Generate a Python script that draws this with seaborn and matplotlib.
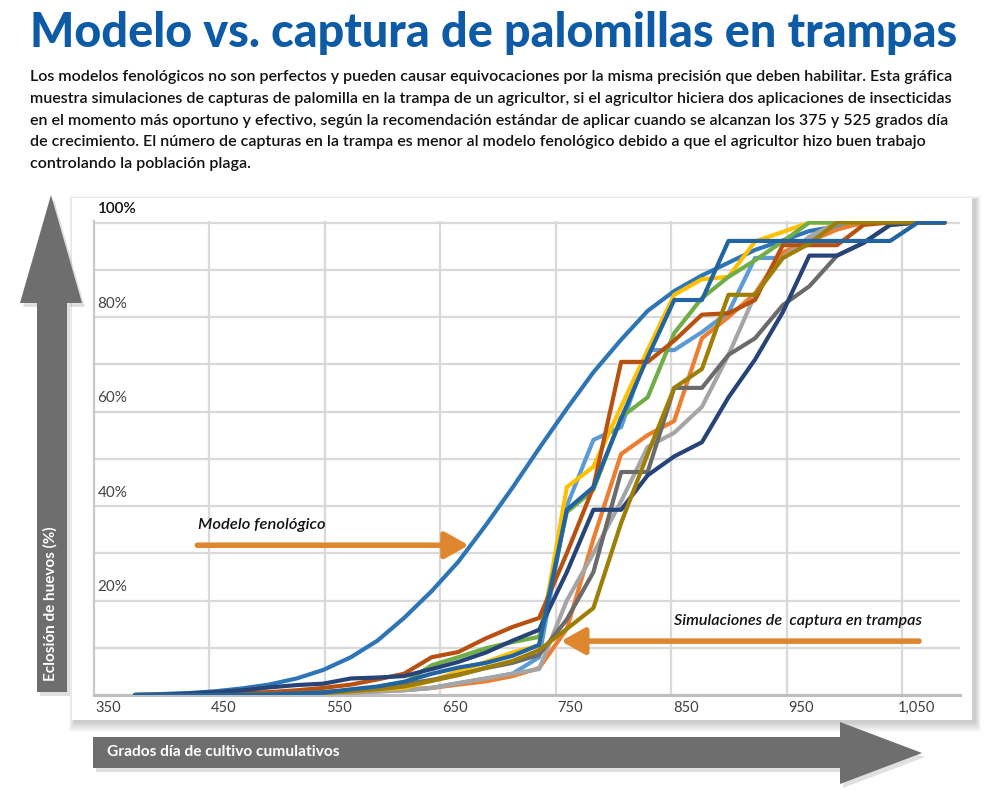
import numpy as np
import pandas as pd
import matplotlib.pyplot as plt
import seaborn as sns
from matplotlib.patches import Polygon, Rectangle
from matplotlib.transforms import blended_transform_factory

# grados dia acumulados (puntos de muestreo)
gdd = [373, 396, 419, 443, 466, 489, 513, 536, 560, 583, 606, 630, 653, 677, 700,
       723, 747, 770, 794, 817, 840, 864, 887, 910, 934, 957, 981, 1004, 1027, 1051, 1074]

modelo = [0, 0.2, 0.4, 0.8, 1.4, 2.2, 3.5, 5.3, 8.0, 11.5, 16.3, 22.0, 28.2, 36.0, 43.9,
          52.2, 60.6, 68.3, 75.2, 81.3, 85.5, 88.8, 91.5, 94.2, 96.2, 98.2, 99.2, 99.8, 100, 100, 100]

sim_celeste = [0, 0, 0, 0, 0, 0.1, 0.2, 0.4, 0.6, 0.8, 1.0, 1.5, 2.5, 3.5, 4.5,
               8.0, 40, 54, 56.7, 73, 73, 76.8, 81, 92.5, 92.5, 96, 99.5, 100, 100, 100, 100]
sim_naranja = [0, 0, 0, 0, 0, 0.1, 0.2, 0.3, 0.5, 0.8, 1.1, 1.5, 2.2, 2.9, 4.0,
               5.7, 14, 33, 51, 55, 58, 75.5, 80, 85, 93.7, 96, 98.5, 100, 100, 100, 100]
sim_gris = [0, 0, 0, 0, 0, 0.1, 0.2, 0.3, 0.5, 0.7, 1.0, 1.5, 2.5, 3.5, 4.5,
            5.5, 20, 30, 41, 52.5, 55.5, 61, 72, 84.7, 92.5, 97, 100, 100, 100, 100, 100]
sim_amarillo = [0, 0, 0, 0, 0.1, 0.2, 0.3, 0.5, 0.8, 1.2, 1.5, 3.0, 5.0, 7.0, 9.0,
                10.5, 44, 48.3, 61, 73, 84.7, 88, 88.5, 96, 98, 100, 100, 100, 100, 100, 100]
sim_verde = [0, 0, 0, 0, 0.1, 0.2, 0.3, 0.6, 1.0, 1.5, 2.5, 6.3, 8.0, 9.9, 11.2,
             12.3, 38.7, 43.4, 58.8, 63, 76.6, 84, 88.5, 92, 96, 100, 100, 100, 100, 100, 100]
sim_ladrillo = [0, 0, 0, 0.2, 0.4, 0.6, 1.0, 1.5, 2.2, 3.3, 4.5, 8.0, 9.1, 12.0, 14.4,
                16.3, 30, 44, 70.5, 70.5, 75, 80.5, 80.8, 83.6, 95.2, 95.2, 95.2, 99.5, 100, 100, 100]
sim_gris_osc = [0, 0, 0, 0, 0.1, 0.2, 0.4, 0.6, 1.0, 1.5, 2.3, 3.2, 4.3, 5.7, 6.8,
                8.5, 16, 26, 47.2, 47.2, 65, 65, 72, 75.5, 82.5, 86.5, 93, 95.7, 99.5, 100, 100]
sim_marino = [0, 0.1, 0.3, 0.6, 1.0, 1.6, 2.1, 2.4, 3.5, 3.7, 4.0, 5.5, 7.0, 9.0, 11.5,
              13.8, 26, 39.2, 39.2, 46.5, 50.5, 53.5, 63, 71, 81, 93, 93, 95.7, 99.5, 100, 100]
sim_ocre = [0, 0, 0, 0, 0, 0.1, 0.2, 0.4, 0.8, 1.2, 1.8, 3.0, 4.2, 5.8, 7.2,
            9.5, 14, 18.4, 36.4, 51, 65, 69, 84.7, 84.7, 92.5, 95.5, 100, 100, 100, 100, 100]
sim_azul = [0, 0, 0, 0, 0, 0.1, 0.3, 0.5, 1.2, 1.8, 2.8, 4.5, 5.8, 6.8, 8.3,
            10.6, 39.2, 44, 58.5, 71.5, 83.6, 83.6, 96.1, 96.1, 96.1, 96.1, 96.1, 96.1, 96.1, 100, 100]

series = {
    "modelo": (modelo, "#2E75B6"),
    "celeste": (sim_celeste, "#5B9BD5"),
    "naranja": (sim_naranja, "#ED7D31"),
    "gris": (sim_gris, "#A5A5A5"),
    "amarillo": (sim_amarillo, "#FFC000"),
    "verde": (sim_verde, "#70AD47"),
    "ladrillo": (sim_ladrillo, "#B8500F"),
    "gris_osc": (sim_gris_osc, "#6B6B6B"),
    "marino": (sim_marino, "#264478"),
    "ocre": (sim_ocre, "#9E7E06"),
    "azul": (sim_azul, "#22649F"),
}

x_ticks = [350, 450, 550, 650, 750, 850, 950, 1050]
x_labels = ["350", "450", "550", "650", "750", "850", "950", "1,050"]
y_labels = [100, 80, 60, 40, 20]

rows = []
for name, (vals, col) in series.items():
    for g, v in zip(gdd, vals):
        rows.append({"gdd": g, "pct": v, "serie": name})
df = pd.DataFrame(rows)
palette = {k: c for k, (v, c) in series.items()}

sns.set_style("white")
plt.rcParams["font.family"] = ["Lato", "DejaVu Sans"]

W, H = 1000, 792
fig = plt.figure(figsize=(10, 7.92), dpi=100)
renderer = fig.canvas.get_renderer()


def fx(px):
    return px / W


def fy(py):
    return 1 - py / H


def fit_width(t, target):
    # ajusta el tamaño de letra para que el texto ocupe el ancho del original
    w = t.get_window_extent(renderer).width
    t.set_fontsize(t.get_fontsize() * target / w)
    return t.get_fontsize()


# panel con sombra
for i in range(10, 0, -1):
    fig.patches.append(Rectangle((fx(72 - i * 0.6 + 3), fy(720 + i * 1.0 + 2)),
                                 (900 + i * 1.2) / W, (522 + i * 1.4) / H,
                                 transform=fig.transFigure, facecolor="black",
                                 alpha=0.018, edgecolor="none", zorder=-10))
fig.patches.append(Rectangle((fx(72), fy(720)), 900 / W, 522 / H, transform=fig.transFigure,
                             facecolor="white", edgecolor="none", zorder=-5))

# flechas grises de los ejes
arrow_col = "#6E6E6E"
for dx, dy, a in [(3, 4, 0.12), (0, 0, 1.0)]:
    left = [(37, 692), (37, 303), (20, 303), (51, 195), (82, 303), (67, 303), (67, 692)]
    bottom = [(93, 737), (840, 737), (840, 722), (922, 753), (840, 784), (840, 768), (93, 768)]
    for pts in (left, bottom):
        fig.patches.append(Polygon([(fx(x + dx), fy(y + dy)) for x, y in pts], closed=True,
                                   transform=fig.transFigure, facecolor=arrow_col if a == 1 else "black",
                                   alpha=a, edgecolor="none", zorder=-2))

t = fig.text(fx(50), fy(681), "Eclosión de huevos (%)", rotation=90, ha="center", va="bottom",
             color="white", fontsize=11, fontweight="bold")
t = fig.text(fx(107), fy(752), "Grados día de cultivo cumulativos", ha="left", va="center",
             color="white", fontsize=11, fontweight="bold")
fit_width(t, 233)

# titulo y parrafo
t = fig.text(fx(30), fy(33), "Modelo vs. captura de palomillas en trampas", ha="left", va="center",
             fontsize=30, fontweight="black", color="#0D5BA6")
fit_width(t, 925)
parrafo = [
    "Los modelos fenológicos no son perfectos y pueden causar equivocaciones por la misma precisión que deben habilitar. Esta gráfica",
    "muestra simulaciones de capturas de palomilla en la trampa de un agricultor, si el agricultor hiciera dos aplicaciones de insecticidas",
    "en el momento más oportuno y efectivo, según la recomendación estándar de aplicar cuando se alcanzan los 375 y 525 grados día",
    "de crecimiento. El número de capturas en la trampa es menor al modelo fenológico debido a que el agricultor hizo buen trabajo",
    "controlando la población plaga.",
]
textos = []
for i, linea in enumerate(parrafo):
    textos.append(fig.text(fx(30), fy(77 + i * 21.8), linea, ha="left", va="center", fontsize=11,
                           fontweight="semibold", color="#111111"))
fs = fit_width(textos[0], 918)
for t in textos[1:]:
    t.set_fontsize(fs)

# grafica
ax = fig.add_axes([fx(94), fy(695), 866 / W, 473.9 / H])
ax.set_facecolor("none")
sns.lineplot(data=df, x="gdd", y="pct", hue="serie", palette=palette, hue_order=list(series.keys()),
             linewidth=3, legend=False, sort=False, ax=ax, zorder=3)
for ln in ax.get_lines():
    ln.set_solid_joinstyle("round")
    ln.set_solid_capstyle("round")

ax.set_xlim(337.5, 1087.5)
ax.set_ylim(0, 100.3)
ax.set_xticks(x_ticks)
ax.set_xticklabels(x_labels)
ax.set_xticks(np.arange(437.5, 1040, 100), minor=True)
ax.set_yticks(range(0, 101, 10))
ax.tick_params(axis="x", which="both", length=0, pad=4, labelsize=10.5, labelcolor="#404040")
ax.tick_params(axis="y", which="both", length=0, labelleft=False)
ax.grid(axis="x", which="minor", color="#D9D9D9", lw=1.6)
ax.grid(axis="y", which="major", color="#D9D9D9", lw=1.6)
ax.set_xlabel("")
ax.set_ylabel("")
for s in ["top", "right"]:
    ax.spines[s].set_visible(False)
ax.spines["left"].set_color("#C8C8C8")
ax.spines["left"].set_linewidth(1.6)
ax.spines["bottom"].set_color("#BFBFBF")
ax.spines["bottom"].set_linewidth(2.2)

tr = blended_transform_factory(ax.transAxes, ax.transData)
for v in y_labels:
    ax.text(0.004, v + 2.8, f"{v}%", transform=tr, ha="left", va="center", fontsize=11,
            color="#111111" if v == 100 else "#444444", fontweight="semibold" if v == 100 else "normal")

flecha = "#DE872E"
ax.annotate("", xy=(662, 31.7), xytext=(427, 31.7),
            arrowprops=dict(arrowstyle="-|>,head_length=0.8,head_width=0.45", color=flecha, lw=4,
                            mutation_scale=18, shrinkA=0, shrinkB=0, capstyle="round"))
t = ax.text(428, 35.9, "Modelo fenológico", ha="left", va="center", fontsize=11, style="italic",
            fontweight="semibold", color="#111111")
fit_width(t, 127)
ax.annotate("", xy=(742, 11.4), xytext=(1052, 11.4),
            arrowprops=dict(arrowstyle="-|>,head_length=0.8,head_width=0.45", color=flecha, lw=4,
                            mutation_scale=18, shrinkA=0, shrinkB=0, capstyle="round"))
t = ax.text(840, 15.7, "Simulaciones de  captura en trampas", ha="left", va="center", fontsize=11,
            style="italic", fontweight="semibold", color="#111111")
fit_width(t, 247)

fig.savefig("out.png", dpi=100)
